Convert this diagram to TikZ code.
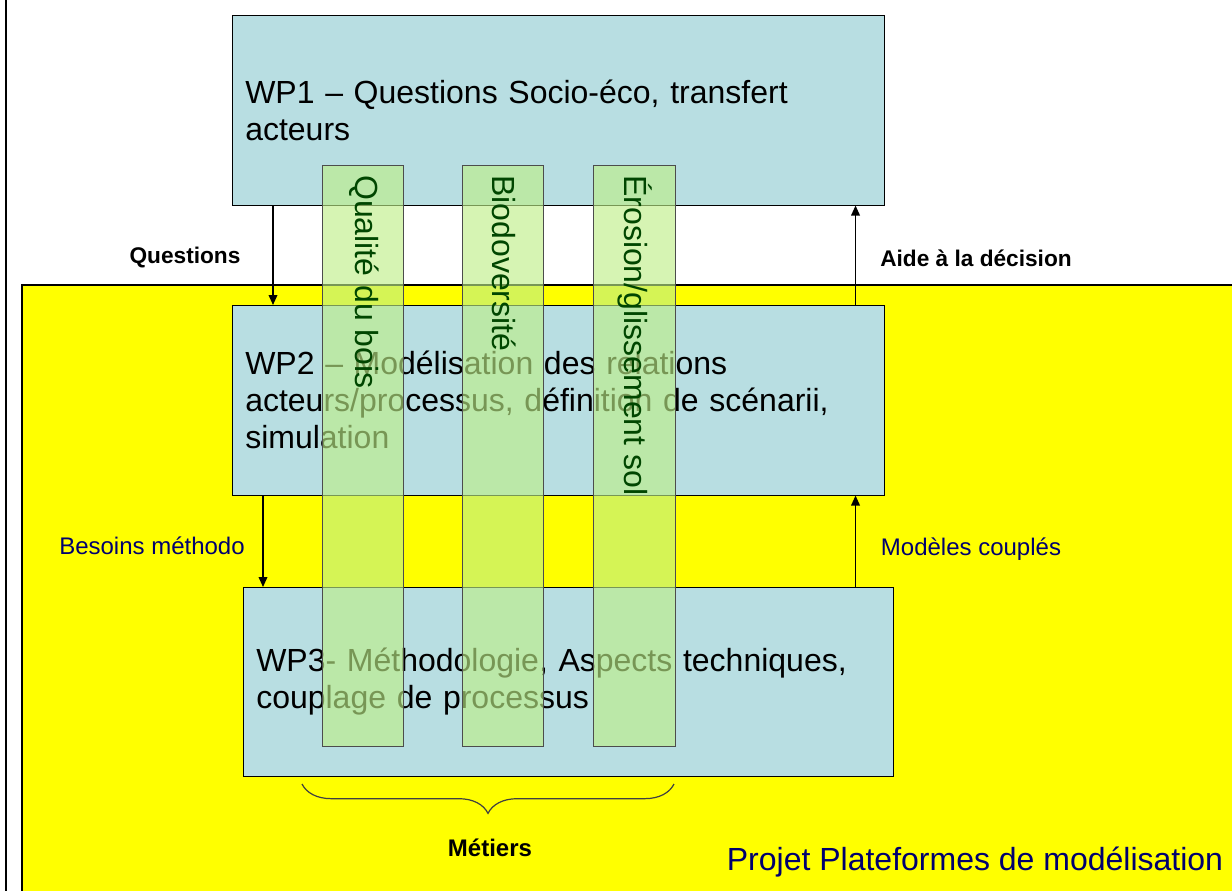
\documentclass[tikz,border=0pt]{standalone}
\usepackage{fontspec}
\setmainfont{Liberation Sans}
\usetikzlibrary{arrows.meta,calc,decorations.pathreplacing}

\definecolor{wpblue}{RGB}{184,222,226}
\definecolor{barfill}{RGB}{190,238,135}
\definecolor{bartxt}{RGB}{0,70,0}
\definecolor{navy}{RGB}{0,0,110}
\definecolor{projyellow}{RGB}{255,255,0}

\tikzset{
  wpbox/.style={draw=black, fill=wpblue, anchor=north west, align=left,
    inner xsep=9.75pt, font=\fontsize{24}{27.75}\selectfont},
  barbox/.style={draw=black!70, fill=barfill, fill opacity=0.63, anchor=north west,
    minimum width=60.75pt, minimum height=435.75pt, inner sep=0pt},
  bartext/.style={rotate=-90, anchor=west, text=bartxt, inner sep=0pt,
    font=\fontsize{24}{27.75}\selectfont},
  flowlbl/.style={font=\bfseries\fontsize{17}{20}\selectfont},
  bluelbl/.style={text=navy, font=\fontsize{18}{21}\selectfont},
  arr/.style={line width=1.1pt, -{Triangle[length=7.5pt,width=6.5pt]}}
}

\begin{document}
\begin{tikzpicture}[x=0.75pt, y=-0.75pt]
  \useasboundingbox (0,0) rectangle (1232,890);
  \clip (0,0) rectangle (1232,890);

  % frame and project area
  \draw[line width=1.5pt] (6,-5) -- (6,900);
  \path[draw=black, line width=1.1pt, fill=projyellow] (22,285) rectangle (1245,905);

  % work packages
  \node[wpbox, minimum width=489pt, minimum height=142.5pt, text width=469.5pt]
    (wp1) at (232,15) {WP1 -- Questions Socio-éco, transfert\\acteurs};
  \node[wpbox, minimum width=489pt, minimum height=142.5pt, text width=469.5pt]
    (wp2) at (232,305) {WP2 -- Modélisation des relations\\acteurs/processus, définition de scénarii,\\simulation};
  \node[wpbox, minimum width=487.5pt, minimum height=141.75pt, text width=468pt]
    (wp3) at (243,587) {WP3- Méthodologie, Aspects techniques,\\couplage de processus};

  \coordinate (cquest) at ($(wp1.south west)+(41,0)$);
  \coordinate (caide) at ($(wp2.north east)+(-29,0)$);
  \coordinate (cbesoins) at ($(wp2.south west)+(31,0)$);
  \coordinate (cmodeles) at ($(wp3.north east)+(-38,0)$);
  \draw[arr] (cquest) -- (cquest |- wp2.north);
  \draw[arr] (caide) -- (caide |- wp1.south);
  \draw[arr] (cbesoins) -- (cbesoins |- wp3.north);
  \draw[arr] (cmodeles) -- (cmodeles |- wp2.south);

  \node[flowlbl] (lquest) at (185,258) {Questions};
  \node[flowlbl] (laide) at (976,258) {Aide à la décision};
  \node[bluelbl] (lbesoins) at (152,546) {Besoins méthodo};
  \node[bluelbl] (lmodeles) at (971,549) {Modèles couplés};

  % metiers
  \node[barbox] (bar1) at (322,165) {};
  \node[barbox] (bar2) at (462,165) {};
  \node[barbox, minimum width=61.5pt] (bar3) at (593,165) {};
  \node[bartext] (tbar1) at ($(bar1.north)+(1,10)$) {Qualité du bois};
  \node[bartext] (tbar2) at ($(bar2.north)+(1,10)$) {Biodoversité};
  \node[bartext] (tbar3) at ($(bar3.north)+(1,10)$) {Érosion/glissement sol};

  \coordinate (brl) at (302,784);
  \coordinate (brr) at (674,784);
  \draw[black!75, line width=0.9pt, decorate,
        decoration={brace, mirror, amplitude=22pt}] (brl) -- (brr);
  \node[font=\bfseries\fontsize{18}{21}\selectfont] (lmetiers) at (490,848) {Métiers};

  \node[text=navy, font=\fontsize{24}{27.75}\selectfont] (lprojet) at (975,862)
    {Projet Plateformes de modélisation};
\end{tikzpicture}
\end{document}
